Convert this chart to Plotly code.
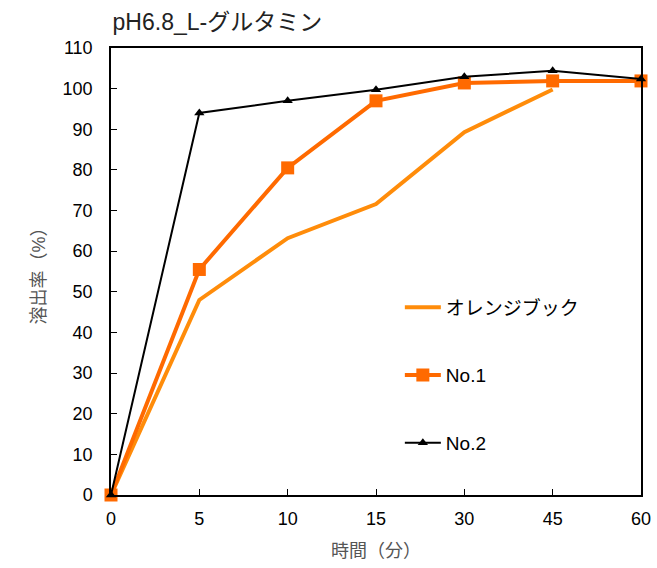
import plotly.graph_objects as go

# Dissolution profile, pH 6.8, L-glutamine
times = ["0", "5", "10", "15", "30", "45", "60"]
orange_book = [0, 48.0, 63.2, 71.6, 89.3, 99.8, None]
no1 = [0, 55.5, 80.5, 97.0, 101.4, 101.9, 101.9]
no2 = [0, 94.0, 97.0, 99.7, 102.9, 104.4, 102.4]

y_ticks = list(range(0, 111, 10))

fig = go.Figure()

fig.add_trace(go.Scatter(
    x=times, y=orange_book, name="オレンジブック", mode="lines",
    line=dict(color="#FF8C0A", width=4), legendgroup="a",
    cliponaxis=False,
))
fig.add_trace(go.Scatter(
    x=times, y=no1, name="No.1", mode="lines+markers",
    line=dict(color="#FF6A00", width=4),
    marker=dict(symbol="square", size=13, color="#FF6A00"),
    legendgroup="b", cliponaxis=False,
))
fig.add_trace(go.Scatter(
    x=times, y=no2, name="No.2", mode="lines+markers",
    line=dict(color="black", width=2),
    marker=dict(symbol="triangle-up", size=9, color="black"),
    legendgroup="c", cliponaxis=False,
))

font_main = "Liberation Sans, Arial, Noto Sans CJK JP, sans-serif"

fig.update_layout(
    width=657, height=568,
    margin=dict(l=111, r=16, t=48, b=73),
    paper_bgcolor="white", plot_bgcolor="white",
    font=dict(family=font_main, size=18, color="black"),
    title=dict(
        text="pH6.8_L-グルタミン", x=0.003, xref="paper", xanchor="left",
        y=0.962, yanchor="middle",
        font=dict(size=23, color="#222222", family=font_main),
    ),
    showlegend=True,
    legend=dict(
        x=0.545, y=0.462, xanchor="left", yanchor="top",
        bgcolor="rgba(0,0,0,0)", tracegroupgap=40,
        traceorder="grouped", itemwidth=36,
        font=dict(size=19, color="black"),
    ),
    xaxis=dict(
        type="category", range=[0, 6], automargin=False,
        showline=True, linecolor="black", linewidth=1.5, mirror=True,
        ticks="inside", ticklen=6, tickcolor="black", tickwidth=1,
        showgrid=False, zeroline=False,
        tickfont=dict(size=18, color="black"),
        ticklabelstandoff=7,
        title=dict(text="時間（分）", font=dict(size=18, color="#555555"), standoff=16),
    ),
    yaxis=dict(
        range=[0, 110], tickvals=y_ticks, automargin=False,
        showline=True, linecolor="black", linewidth=1.5, mirror=True,
        ticks="inside", ticklen=6, tickcolor="black", tickwidth=1,
        showgrid=False, zeroline=False,
        tickfont=dict(size=18, color="black"),
        ticklabelstandoff=13,
        title=dict(text="溶出率（%）", font=dict(size=18, color="#555555"), standoff=12),
    ),
)

fig.write_html("out.html")
